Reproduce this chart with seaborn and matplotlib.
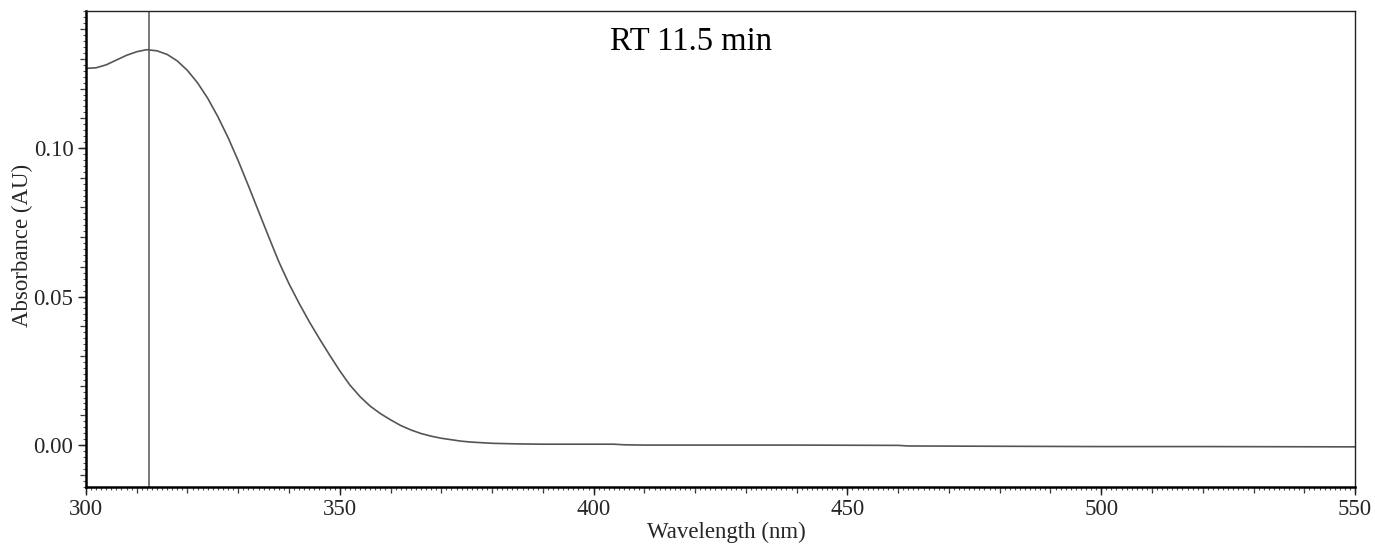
import matplotlib
matplotlib.use("Agg")
import matplotlib.pyplot as plt
from matplotlib.ticker import MultipleLocator, NullFormatter
import seaborn as sns
import pandas as pd

# UV-Vis spectrum extracted at the chromatographic peak
wavelength_nm = [300, 302, 304, 306, 308, 310, 312, 314, 316, 318, 320, 322, 324,
                 326, 328, 330, 332, 334, 336, 338, 340, 342, 344, 346, 348, 350,
                 352, 354, 356, 358, 360, 362, 364, 366, 368, 370, 372, 374, 376,
                 378, 380, 385, 390, 400, 404, 406, 410, 420, 440, 460, 462, 480,
                 500, 520, 550]
absorbance_au = [0.1268, 0.1270, 0.1280, 0.1296, 0.1312, 0.1324, 0.1331, 0.1327,
                 0.1315, 0.1293, 0.1261, 0.1219, 0.1167, 0.1105, 0.1035, 0.0957,
                 0.0873, 0.0787, 0.0701, 0.0617, 0.0543, 0.0477, 0.0415, 0.0358,
                 0.0303, 0.0250, 0.0202, 0.0163, 0.0131, 0.0106, 0.0085, 0.0066,
                 0.0051, 0.0039, 0.0030, 0.0023, 0.0018, 0.0013, 0.0010, 0.0008,
                 0.0006, 0.0004, 0.0003, 0.0003, 0.0003, 0.0001, 0.0000, 0.0000,
                 0.0000, -0.0001, -0.0003, -0.0004, -0.0005, -0.0005, -0.0006]
peak_nm = 312.4
title_text = "RT 11.5 min"
x_label = "Wavelength (nm)"
y_label = "Absorbance (AU)"

spectrum = pd.DataFrame({"wavelength": wavelength_nm, "absorbance": absorbance_au})

sns.set_theme(style="ticks")
plt.rcParams["font.family"] = ["Liberation Serif", "DejaVu Serif"]

fig = plt.figure(figsize=(13.75, 5.52), dpi=100)
ax = fig.add_axes([0.0625, 0.1178, 0.923, 0.8622])

sns.lineplot(data=spectrum, x="wavelength", y="absorbance", ax=ax,
             color="#555555", linewidth=1.2, estimator=None)
ax.axvline(peak_nm, color="#555555", linewidth=1.1)

ax.set_xlim(300, 550)
ax.set_ylim(-0.0141, 0.1461)

# labelled (long) ticks, plus fine minor ticks
ax.xaxis.set_major_locator(MultipleLocator(50))
ax.xaxis.set_minor_locator(MultipleLocator(1))
ax.yaxis.set_major_locator(MultipleLocator(0.05))
ax.yaxis.set_minor_locator(MultipleLocator(0.002))
ax.yaxis.set_major_formatter(plt.FuncFormatter(lambda v, p: f"{v:.2f}"))

ax.tick_params(axis="both", which="major", length=6, width=1.0, color="#222222",
               labelsize=16.5, pad=3, direction="out")
ax.tick_params(axis="both", which="minor", length=2.2, width=0.8, color="#555555",
               direction="out")

# intermediate ticks every 10 nm / 0.01 AU
sec_x = ax.secondary_xaxis("bottom")
sec_x.xaxis.set_major_locator(MultipleLocator(10))
sec_x.xaxis.set_major_formatter(NullFormatter())
sec_x.tick_params(which="major", length=4, width=0.9, color="#333333")
sec_x.spines["bottom"].set_visible(False)

sec_y = ax.secondary_yaxis("left")
sec_y.yaxis.set_major_locator(MultipleLocator(0.01))
sec_y.yaxis.set_major_formatter(NullFormatter())
sec_y.tick_params(which="major", length=4, width=0.9, color="#333333")
sec_y.spines["left"].set_visible(False)

for side in ("left", "bottom"):
    ax.spines[side].set_linewidth(1.8)
    ax.spines[side].set_color("black")
for side in ("top", "right"):
    ax.spines[side].set_linewidth(1.0)
    ax.spines[side].set_color("#222222")

ax.set_xlabel(x_label, fontsize=16.5)
ax.set_ylabel(y_label, fontsize=16.5)
ax.xaxis.set_label_coords(0.505, -0.074)
ax.yaxis.set_label_coords(-0.0418, 0.508)

ax.text(0.4768, 0.935, title_text, transform=ax.transAxes, fontsize=23.5,
        ha="center", va="center", color="black")

fig.savefig("out.png", dpi=100)
